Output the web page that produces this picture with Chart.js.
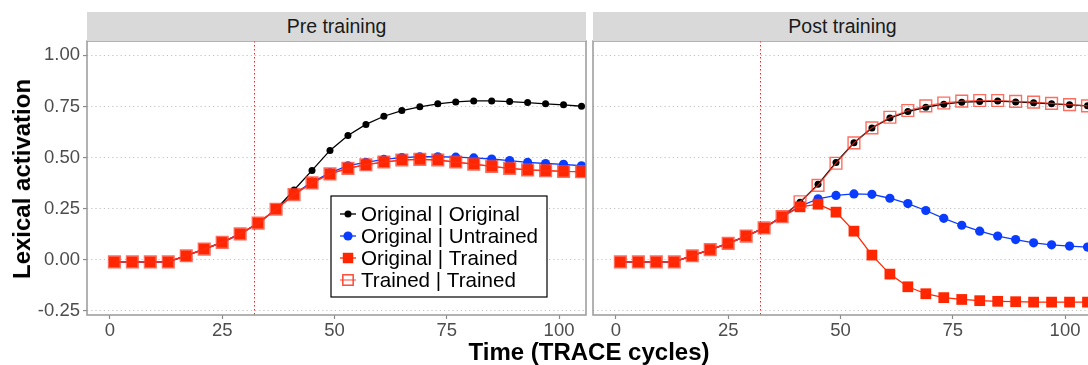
<!DOCTYPE html>
<html>
<head>
<meta charset="utf-8">
<script src="https://cdn.jsdelivr.net/npm/chart.js@4.4.1/dist/chart.umd.min.js"></script>
<style>
  html, body { margin: 0; padding: 0; background: #fff; overflow: hidden; }
  #wrap { position: relative; width: 1088px; height: 365px; overflow: hidden;
          font-family: "Liberation Sans", Arial, sans-serif; }
  canvas { position: absolute; top: 0; }
  #pre { left: 0; }
  #post { left: 588px; }
  .strip { position: absolute; top: 12px; height: 29px; background: #d9d9d9; color: #1a1a1a;
           font-size: 19.5px; line-height: 29px; text-align: center; }
  .title { position: absolute; font-weight: bold; font-size: 24px; color: #000;
           white-space: nowrap; line-height: 1; }
</style>
</head>
<body>
<div id="wrap">
  <canvas id="pre" width="590" height="365"></canvas>
  <canvas id="post" width="510" height="365"></canvas>
  <div class="strip" style="left:87px;width:499px">Pre training</div>
  <div class="strip" style="left:593px;width:499px">Post training</div>
  <div class="title" style="left:22px;top:179px;transform:translate(-50%,-50%) rotate(-90deg)">Lexical activation</div>
  <div class="title" style="left:589px;top:352px;transform:translate(-50%,-50%)">Time (TRACE cycles)</div>
</div>
<script>
// time points (TRACE cycles)
const time = [1, 5, 9, 13, 17, 21, 25, 29, 33, 37, 41, 45, 49, 53, 57, 61, 65, 69, 73, 77, 81, 85, 89, 93, 97, 101, 105];
const xTicks = [0, 25, 50, 75, 100];
const yTicks = [-0.25, 0, 0.25, 0.5, 0.75, 1.0];
const cueTime = 32; // dotted red marker
const seriesNames = ["Original | Original", "Original | Untrained", "Original | Trained", "Trained | Trained"];

// Pre training panel
const preOrigOrig = [-0.01, -0.01, -0.01, -0.01, 0.02, 0.052, 0.085, 0.127, 0.179, 0.247,
  0.341, 0.437, 0.535, 0.608, 0.662, 0.702, 0.73, 0.748, 0.763, 0.772, 0.777, 0.777, 0.774, 0.769, 0.763, 0.758, 0.751];
const preOrigUntr = [-0.01, -0.01, -0.01, -0.01, 0.02, 0.052, 0.085, 0.127, 0.179, 0.247,
  0.322, 0.38, 0.425, 0.46, 0.476, 0.491, 0.5, 0.504, 0.504, 0.502, 0.498, 0.493, 0.485, 0.476, 0.471, 0.467, 0.46];
const preOrigTr = [-0.01, -0.01, -0.01, -0.01, 0.02, 0.052, 0.085, 0.127, 0.179, 0.247,
  0.319, 0.376, 0.42, 0.447, 0.465, 0.478, 0.488, 0.491, 0.488, 0.478, 0.468, 0.457, 0.447, 0.44, 0.436, 0.432, 0.431];
const preTrTr = [-0.01, -0.01, -0.01, -0.01, 0.02, 0.052, 0.085, 0.127, 0.179, 0.247,
  0.319, 0.376, 0.42, 0.447, 0.465, 0.478, 0.488, 0.491, 0.488, 0.478, 0.468, 0.457, 0.447, 0.44, 0.436, 0.432, 0.431];

// Post training panel
const postOrigOrig = [-0.01, -0.01, -0.01, -0.01, 0.02, 0.05, 0.08, 0.116, 0.156, 0.211,
  0.281, 0.369, 0.476, 0.572, 0.645, 0.693, 0.725, 0.746, 0.761, 0.771, 0.774, 0.776, 0.772, 0.768, 0.763, 0.758, 0.753];
const postOrigUntr = [-0.01, -0.01, -0.01, -0.01, 0.02, 0.05, 0.08, 0.116, 0.156, 0.211,
  0.262, 0.298, 0.315, 0.322, 0.32, 0.301, 0.275, 0.241, 0.203, 0.169, 0.14, 0.116, 0.099, 0.083, 0.073, 0.067, 0.062];
const postOrigTr = [-0.01, -0.01, -0.01, -0.01, 0.02, 0.05, 0.08, 0.116, 0.156, 0.211,
  0.259, 0.272, 0.233, 0.14, 0.023, -0.07, -0.132, -0.166, -0.185, -0.194, -0.2, -0.203, -0.205, -0.207, -0.207, -0.207, -0.207];
const postTrTr = [-0.01, -0.01, -0.01, -0.01, 0.02, 0.05, 0.08, 0.116, 0.156, 0.211,
  0.284, 0.364, 0.472, 0.572, 0.645, 0.697, 0.73, 0.753, 0.767, 0.776, 0.779, 0.779, 0.775, 0.771, 0.765, 0.759, 0.753];

Chart.defaults.font.family = "'Liberation Sans', Arial, sans-serif";

const RED = "#ff2600";
const BLUE = "#0a3cff";

function toPoints(vals) {
  return vals.map((v, i) => ({ x: time[i], y: v }));
}

function makeDatasets(oo, ou, ot, tt) {
  return [
    { label: seriesNames[0], data: toPoints(oo), order: 3, borderColor: "#000", borderWidth: 1.3,
      pointStyle: "circle", pointRadius: 3.5, pointBackgroundColor: "#000", pointBorderWidth: 0 },
    { label: seriesNames[1], data: toPoints(ou), order: 2, borderColor: BLUE, borderWidth: 1.3,
      pointStyle: "circle", pointRadius: 4.6, pointBackgroundColor: BLUE, pointBorderWidth: 0 },
    { label: seriesNames[2], data: toPoints(ot), order: 1, borderColor: RED, borderWidth: 1.3,
      pointStyle: "rect", pointRadius: 7.6, pointBackgroundColor: RED, pointBorderWidth: 0 },
    { label: seriesNames[3], data: toPoints(tt), order: 0, borderColor: "rgba(255,50,30,0.75)", borderWidth: 1.2,
      pointStyle: "rect", pointRadius: 8.3, pointBackgroundColor: "rgba(0,0,0,0)",
      pointBorderColor: "rgba(255,60,40,0.75)", pointBorderWidth: 1.4 }
  ];
}

// panel decorations: cue line, border, optional legend
const panelPlugin = {
  id: "panel",
  beforeDatasetsDraw(chart) {
    const { ctx, chartArea, scales } = chart;
    const x = Math.round(scales.x.getPixelForValue(cueTime)) + 0.5;
    ctx.save();
    ctx.strokeStyle = "#ff1a1a";
    ctx.lineWidth = 1;
    ctx.setLineDash([1.5, 2.5]);
    ctx.beginPath();
    ctx.moveTo(x, chartArea.top);
    ctx.lineTo(x, chartArea.bottom);
    ctx.stroke();
    ctx.restore();
  },
  afterDatasetsDraw(chart) {
    const { ctx, chartArea } = chart;
    ctx.save();
    ctx.strokeStyle = "#999999";
    ctx.lineWidth = 1.5;
    ctx.strokeRect(chartArea.left, chartArea.top, chartArea.right - chartArea.left, chartArea.bottom - chartArea.top);
    ctx.restore();
  },
  afterDraw(chart, args, opts) {
    if (!opts.legend) return;
    const { ctx, chartArea } = chart;
    const bx = chartArea.left + 244, by = chartArea.top + 155, bw = 216, bh = 101;
    ctx.save();
    ctx.fillStyle = "#fff";
    ctx.fillRect(bx, by, bw, bh);
    ctx.strokeStyle = "#000";
    ctx.lineWidth = 1.2;
    ctx.strokeRect(bx, by, bw, bh);
    const legendOrder = [0, 1, 2, 3];
    legendOrder.forEach((di, row) => {
      const ds = chart.data.datasets[di];
      const cy = by + 18 + row * 22;
      const cx = bx + 17;
      ctx.strokeStyle = ds.borderColor;
      ctx.lineWidth = ds.borderWidth;
      ctx.setLineDash([]);
      ctx.beginPath();
      ctx.moveTo(cx - 8, cy);
      ctx.lineTo(cx + 8, cy);
      ctx.stroke();
      ctx.fillStyle = ds.pointBackgroundColor;
      ctx.strokeStyle = ds.pointBorderColor || ds.borderColor;
      const r = ds.pointStyle === "rect" ? 7.4 : ds.pointRadius;
      Chart.helpers.drawPoint(ctx, { pointStyle: ds.pointStyle, radius: r, rotation: 0, borderWidth: ds.pointBorderWidth }, cx, cy);
      if (ds.pointBorderWidth > 0) {
        ctx.lineWidth = ds.pointBorderWidth;
        ctx.stroke();
      }
      ctx.fillStyle = "#000";
      ctx.font = "20.6px 'Liberation Sans', Arial, sans-serif";
      ctx.textBaseline = "middle";
      ctx.fillText(ds.label, bx + 30, cy + 1);
    });
    ctx.restore();
  }
};

function makeChart(id, datasets, showY, padding, legend) {
  return new Chart(document.getElementById(id), {
    type: "line",
    data: { datasets: datasets },
    plugins: [panelPlugin],
    options: {
      responsive: false,
      animation: false,
      layout: { padding: padding, autoPadding: false },
      elements: { line: { tension: 0 } },
      datasets: { line: { clip: 0 } },
      plugins: { legend: { display: false }, tooltip: { enabled: false }, panel: { legend: legend } },
      scales: {
        x: {
          type: "linear", min: -5.1, max: 106,
          afterBuildTicks: (s) => { s.ticks = xTicks.map((v) => ({ value: v })); },
          afterFit: (s) => { s.height = 30; s.paddingLeft = 0; s.paddingRight = 0; },
          grid: { drawOnChartArea: false, drawTicks: true, tickLength: 4, tickColor: "#8a8a8a", tickWidth: 1.2 },
          border: { display: false },
          ticks: { color: "#4d4d4d", font: { size: 18.5 }, padding: 1, maxRotation: 0 }
        },
        y: {
          type: "linear", min: -0.27, max: 1.07,
          afterBuildTicks: (s) => { s.ticks = yTicks.map((v) => ({ value: v })); },
          afterFit: (s) => { s.width = showY ? 87 : 0; s.paddingTop = 0; s.paddingBottom = 0; },
          grid: { color: "#c2c2c2", lineWidth: 1.1, drawTicks: showY, tickLength: 4,
                  tickColor: "#8a8a8a", tickWidth: 1.2, tickBorderDash: [] },
          border: { display: false, dash: [1.2, 3] },
          ticks: { display: showY, color: "#4d4d4d", font: { size: 18.5 }, padding: 3,
                   callback: (v) => v.toFixed(2) }
        }
      }
    }
  });
}

makeChart("pre", makeDatasets(preOrigOrig, preOrigUntr, preOrigTr, preTrTr), true,
  { top: 41, right: 4, bottom: 20, left: 0 }, true);
makeChart("post", makeDatasets(postOrigOrig, postOrigUntr, postOrigTr, postTrTr), false,
  { top: 41, right: 6, bottom: 20, left: 5 }, false);
</script>
</body>
</html>
